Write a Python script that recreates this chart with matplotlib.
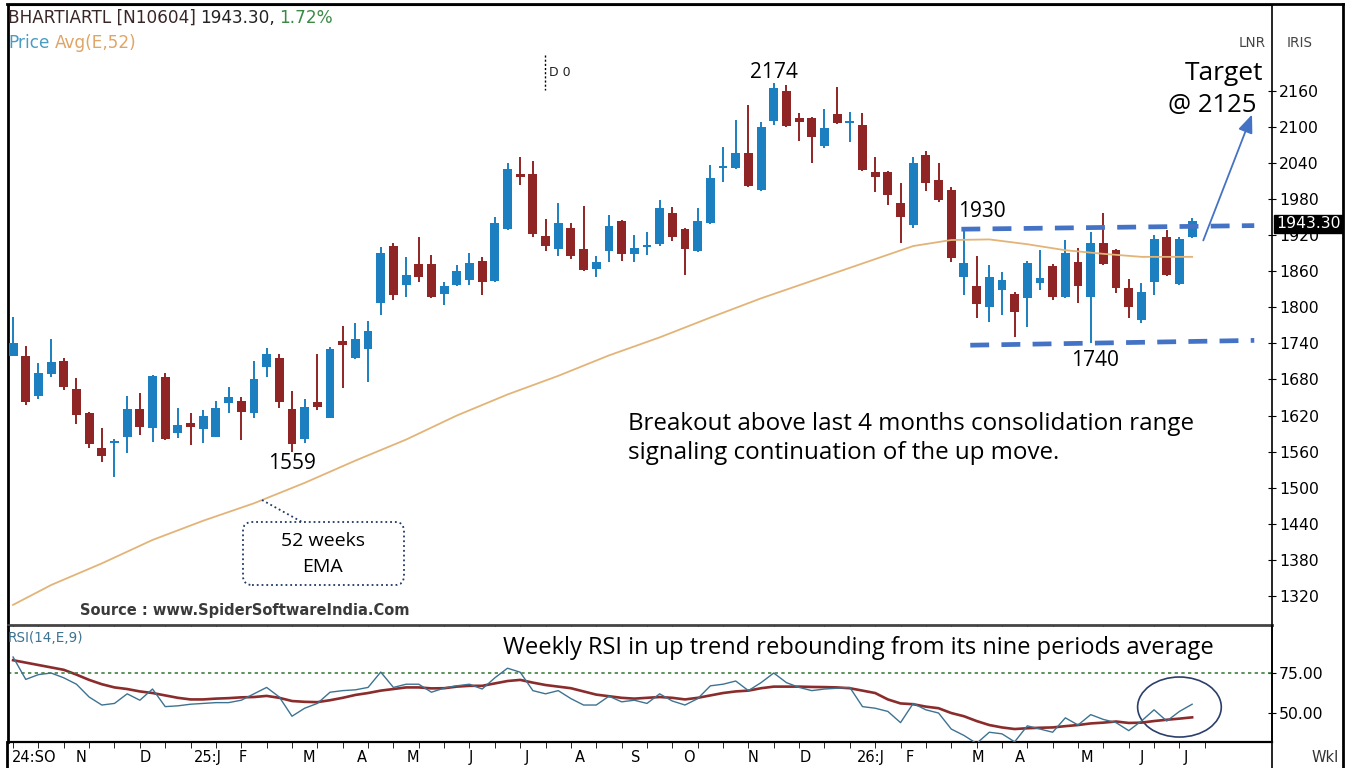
import matplotlib
matplotlib.use('Agg')
import matplotlib.pyplot as plt
from matplotlib import font_manager
from matplotlib.lines import Line2D
from matplotlib.patches import Ellipse, FancyBboxPatch
from matplotlib.transforms import IdentityTransform
import numpy as np

# weekly candles, BHARTIARTL
opens = [1719, 1719, 1653, 1689, 1711, 1664, 1624, 1566, 1574, 1584, 1631, 1599, 1684, 1591, 1608, 1598,
         1584, 1641, 1644, 1624, 1701, 1716, 1631, 1581, 1643, 1616, 1744, 1716, 1731, 1807, 1902, 1837,
         1872, 1872, 1822, 1837, 1846, 1877, 1844, 1930, 2022, 2022, 1919, 1897, 1932, 1897, 1864, 1894,
         1944, 1889, 1901, 1905, 1957, 1930, 1894, 1940, 2032, 2032, 2057, 1995, 2110, 2160, 2115, 2115,
         2068, 2122, 2107, 2103, 2025, 2025, 1974, 1937, 2053, 2012, 1995, 1851, 1836, 1801, 1829, 1822,
         1816, 1841, 1869, 1817, 1875, 1817, 1907, 1895, 1832, 1779, 1842, 1917, 1839, 1917]
highs = [1784, 1736, 1707, 1747, 1716, 1682, 1626, 1599, 1581, 1652, 1657, 1687, 1691, 1633, 1624, 1629,
         1644, 1667, 1651, 1711, 1732, 1722, 1661, 1647, 1722, 1734, 1769, 1774, 1777, 1900, 1907, 1884,
         1917, 1887, 1842, 1870, 1890, 1884, 1950, 2040, 2050, 2044, 1947, 1974, 1940, 1969, 1885, 1954,
         1946, 1920, 1925, 1979, 1967, 1932, 1965, 2037, 2067, 2112, 2137, 2108, 2174, 2170, 2123, 2117,
         2130, 2167, 2125, 2123, 2050, 2027, 2007, 2050, 2060, 2040, 2000, 1930, 1885, 1870, 1859, 1826,
         1877, 1895, 1872, 1912, 1899, 1925, 1957, 1897, 1847, 1841, 1920, 1929, 1917, 1949]
lows = [1719, 1638, 1647, 1684, 1662, 1606, 1566, 1543, 1518, 1558, 1588, 1576, 1579, 1583, 1571, 1574,
        1584, 1624, 1579, 1616, 1684, 1633, 1559, 1574, 1629, 1616, 1666, 1714, 1676, 1787, 1812, 1817,
        1842, 1815, 1804, 1835, 1837, 1821, 1842, 1928, 2004, 1917, 1894, 1885, 1880, 1860, 1851, 1875,
        1877, 1875, 1887, 1902, 1910, 1854, 1892, 1938, 2009, 2030, 2000, 1993, 2103, 2100, 2077, 2040,
        2065, 2105, 2075, 2027, 1992, 1970, 1907, 1932, 1994, 1975, 1875, 1821, 1782, 1776, 1787, 1751,
        1767, 1829, 1812, 1815, 1807, 1740, 1870, 1824, 1782, 1774, 1821, 1852, 1837, 1915]
closes = [1741, 1643, 1691, 1709, 1667, 1621, 1573, 1553, 1576, 1631, 1601, 1686, 1581, 1604, 1601, 1619,
          1633, 1651, 1626, 1681, 1722, 1643, 1573, 1634, 1634, 1731, 1737, 1747, 1761, 1890, 1821, 1854,
          1851, 1817, 1836, 1860, 1874, 1842, 1940, 2030, 2017, 1922, 1902, 1940, 1885, 1862, 1875, 1935,
          1889, 1899, 1904, 1965, 1917, 1897, 1944, 2015, 2034, 2057, 2002, 2100, 2165, 2102, 2108, 2083,
          2098, 2107, 2108, 2029, 2017, 1987, 1950, 2040, 2007, 1979, 1882, 1874, 1806, 1851, 1846, 1792,
          1874, 1849, 1817, 1890, 1836, 1907, 1872, 1832, 1801, 1826, 1914, 1854, 1914, 1943.3]

# 52 week EMA, read at a few weeks
ema_week = [0, 3, 7, 11, 15, 19, 23, 27, 31, 35, 39, 43, 47, 51, 55, 59, 63, 67, 71, 74, 77, 80, 83, 86, 89, 93]
ema_val = [1305, 1338, 1374, 1413, 1445, 1474, 1508, 1545, 1580, 1620, 1655, 1686, 1720, 1750, 1783, 1815,
           1844, 1873, 1902, 1912, 1913, 1905, 1895, 1889, 1884, 1884]

rsi = [85, 71, 74, 75, 72, 68, 60, 55, 56, 62, 58, 65, 54, 54.5, 55.5, 56, 56.5, 56.5, 58, 62,
       66, 60, 48, 53, 56, 63, 64, 64.5, 66, 75.6, 66, 68, 68, 63, 65.6, 67, 68, 65, 72, 78,
       75.5, 64, 62, 64, 59, 55, 55, 60.5, 57, 58, 56, 62, 57.5, 55, 59, 67, 68, 70, 64, 69,
       75, 69, 66, 64, 65, 65.5, 66, 54, 53, 51, 44, 56, 52, 50, 40, 36, 31, 38, 37, 32,
       42, 40, 38, 47, 42.5, 49, 46, 44, 39, 45, 52, 45, 51, 55.5]
rsi_avg = [83, 81.5, 80, 78.5, 77, 74, 70.7, 68, 66, 65, 63.5, 62.5, 61, 59.5, 58.5, 58.5, 59, 59.3, 59.8, 60,
           60.7, 59.5, 57.5, 57, 56.8, 58, 59.5, 61.3, 62.5, 64, 65, 66, 66, 65.4, 65.5, 66.5, 67, 67, 68.5, 70,
           70.7, 69, 67.5, 66.5, 65.5, 63.5, 61.5, 60.5, 59.5, 59, 59.5, 60, 59.5, 58.5, 59.5, 61, 62.5, 63.5, 64, 65.5,
           66.5, 66.5, 66.5, 66.3, 66.2, 66, 65.5, 64, 62.5, 58.5, 56, 55.5, 54, 53, 50, 48, 45, 42.5, 41, 40,
           40.5, 40.8, 41, 41.8, 42.5, 43.5, 44, 44.7, 43.8, 44, 45, 45.8, 46.5, 47.3]

month_pos = [1.7, 5.4, 10.4, 15.4, 18.1, 23.3, 27.5, 31.5, 36.1, 40.5, 44.7, 49.1, 53.3, 58.4, 62.5,
             67.7, 70.7, 76.1, 79.4, 84.7, 89.0, 92.5]
month_lab = ['24:SO', 'N', 'D', '25:J', 'F', 'M', 'A', 'M', 'J', 'J', 'A', 'S', 'O', 'N', 'D',
             '26:J', 'F', 'M', 'A', 'M', 'J', 'J']

range_top = [1930, 1936]
range_bot = [1737, 1745]
target = 2125
last_close = 1943.30

names = {f.name for f in font_manager.fontManager.ttflist}
NARROW = 'Liberation Sans Narrow' if 'Liberation Sans Narrow' in names else 'DejaVu Sans'
k = 1.0 if NARROW != 'DejaVu Sans' else 0.75
ANN = 'Open Sans'

W, H = 1352, 768
def fx(px):
    return px / W
def fy(py):
    return 1 - py / H

fig = plt.figure(figsize=(13.52, 7.68), dpi=100)
ax = fig.add_axes([fx(8), fy(625), fx(1272) - fx(8), fy(5) - fy(625)])
ar = fig.add_axes([fx(8), fy(742), fx(1272) - fx(8), fy(627) - fy(742)], sharex=ax)

o = np.array(opens, float)
c = np.array(closes, float)
x = np.arange(len(o))
col = np.where(c >= o, '#1b7fc0', '#8f2525')
ax.vlines(x, lows, highs, colors=col, lw=1.4, zorder=2)
ax.bar(x, np.maximum(np.abs(c - o), 3), 0.7, bottom=np.minimum(o, c), color=col, zorder=3)
ax.plot(ema_week, ema_val, color='#e3b478', lw=1.3, zorder=4)

ax.set_xlim(-0.4, 99.3)
ax.set_ylim(1271.5, 2303)
ax.yaxis.tick_right()
ax.set_yticks(range(1320, 2161, 60))
ax.tick_params(axis='y', direction='inout', length=6, labelsize=15 * k, pad=2)
for t in ax.get_yticklabels():
    t.set_family(NARROW)
ax.tick_params(axis='x', bottom=False, labelbottom=False)
for s in ['left', 'top', 'right']:
    ax.spines[s].set_color('black')
ax.spines['left'].set_linewidth(2)
ax.spines['right'].set_linewidth(1.2)
ax.spines['bottom'].set_color('#444444')
ax.spines['bottom'].set_linewidth(2)

# consolidation range and target
ax.plot([74.8, 97.9], range_top, color='#4472c4', lw=3.4, ls=(0, (4, 2.6)), zorder=5)
ax.plot([75.5, 97.9], range_bot, color='#4472c4', lw=3.4, ls=(0, (4, 2.6)), zorder=5)
ax.annotate('', xy=(97.8, target), xytext=(93.8, 1907),
            arrowprops=dict(arrowstyle='-|>,head_length=1.1,head_width=0.45', color='#4472c4', lw=1.3))

ax.text(60, 2190, '2174', ha='center', va='center', fontsize=15, family=ANN)
ax.text(74.5, 1960, '1930', ha='left', va='center', fontsize=15, family=ANN)
ax.text(85.3, 1712, '1740', ha='center', va='center', fontsize=15, family=ANN)
ax.text(22, 1541, '1559', ha='center', va='center', fontsize=15, family=ANN)

# RSI panel
ar.plot(x, rsi, color='#3d7391', lw=1.0, zorder=3)
ar.plot(x, rsi_avg, color='#8a2c2c', lw=1.9, zorder=2)
ar.axhline(75, color='#3f7f3f', lw=1.2, ls=(0, (2, 2)))
ar.add_patch(Ellipse((92, 53.75), 6.6, 37.5, fill=False, ec='#2b3f6b', lw=1.2))
ar.set_ylim(31.9, 103.75)
ar.yaxis.tick_right()
ar.set_yticks([50, 75])
ar.set_yticklabels(['50.00', '75.00'])
ar.tick_params(axis='y', direction='inout', length=6, labelsize=15 * k, pad=2)
for t in ar.get_yticklabels():
    t.set_family(NARROW)
ar.set_xticks(month_pos)
ar.set_xticklabels(month_lab)
ar.set_xticks(np.arange(0, 96, 2), minor=True)
ar.tick_params(axis='x', which='major', length=0, labelsize=14 * k, pad=6)
ar.tick_params(axis='x', which='minor', direction='out', length=4)
for t in ar.get_xticklabels():
    t.set_family(NARROW)
ar.spines['top'].set_visible(False)
ar.spines['left'].set_linewidth(2)
ar.spines['bottom'].set_linewidth(1.6)
ar.spines['right'].set_linewidth(1.2)

# frame
for (x0, y0, x1, y1, lw) in [(7, 4, 1343, 4, 2), (1343, 4, 1343, 768, 2),
                             (1272, 625, 1272, 768, 1.2), (7, 742, 7, 768, 2)]:
    fig.add_artist(Line2D([fx(x0), fx(x1)], [fy(y0), fy(y1)], color='black', lw=lw,
                          transform=fig.transFigure))
fig.add_artist(Line2D([fx(545), fx(545)], [fy(55), fy(90)], color='black', lw=1,
                      ls=(0, (1.5, 1.5)), transform=fig.transFigure))

# header texts
hk = 12.2 if NARROW == 'DejaVu Sans' else 14
fig.text(fx(8), fy(18), 'BHARTIARTL [N10604]', color='#3a2626', fontsize=hk, family=NARROW, va='center')
fig.text(fx(200), fy(18), '1943.30,', color='#222222', fontsize=hk, family=NARROW, va='center')
fig.text(fx(279), fy(18), '1.72%', color='#3a8a45', fontsize=hk, family=NARROW, va='center')
fig.text(fx(8), fy(43), 'Price', color='#4a9cc4', fontsize=hk, family=NARROW, va='center')
fig.text(fx(55), fy(43), 'Avg(E,52)', color='#e0a466', fontsize=hk, family=NARROW, va='center')
fig.text(fx(1252), fy(43), 'LNR', color='#444444', fontsize=13 * k, family=NARROW, va='center', ha='center')
fig.text(fx(1300), fy(43), 'IRIS', color='#444444', fontsize=13 * k, family=NARROW, va='center', ha='center')
fig.text(fx(549), fy(72), 'D 0', color='#222222', fontsize=12 * k, family=NARROW, va='center')
fig.text(fx(80), fy(610), 'Source : www.SpiderSoftwareIndia.Com', color='#3a3a3a', fontsize=14 * k,
         family=NARROW, weight='bold', va='center')
fig.text(fx(8), fy(638), 'RSI(14,E,9)', color='#3d7391', fontsize=13 * k, family=NARROW, va='center')
fig.text(fx(1325), fy(757), 'Wkl', color='#333333', fontsize=14 * k, family=NARROW, va='center', ha='center')
fig.text(fx(1308), fy(224), '%.2f' % last_close, color='white', fontsize=15 * k, family=NARROW,
         va='center', ha='center', zorder=10,
         bbox=dict(boxstyle='square,pad=0.12', fc='black', ec='black'))

# annotations
fig.text(fx(1263), fy(73), 'Target', fontsize=19, family=ANN, ha='right', va='center')
fig.text(fx(1256), fy(105), '@ 2125', fontsize=18.5, family=ANN, ha='right', va='center')
fig.text(fx(628), fy(424), 'Breakout above last 4 months consolidation range', fontsize=17.4, family=ANN, va='center')
fig.text(fx(628), fy(453), 'signaling continuation of the up move.', fontsize=17.4, family=ANN, va='center')
fig.text(fx(503), fy(648), 'Weekly RSI in up trend rebounding from its nine periods average', fontsize=17,
         family=ANN, va='center')

box = FancyBboxPatch((243, H - 585), 161, 63, boxstyle='round,pad=0,rounding_size=9',
                     fill=False, ec='#1f3864', lw=1.3, ls=':', transform=IdentityTransform())
fig.add_artist(box)
fig.add_artist(Line2D([262, 302], [H - 500, H - 522], color='#1f3864', lw=1.3, ls=':',
                      transform=IdentityTransform()))
fig.text(fx(323), fy(541), '52 weeks', fontsize=14, family=ANN, ha='center', va='center')
fig.text(fx(323), fy(567), 'EMA', fontsize=14, family=ANN, ha='center', va='center')

fig.savefig('out.png', dpi=100)
